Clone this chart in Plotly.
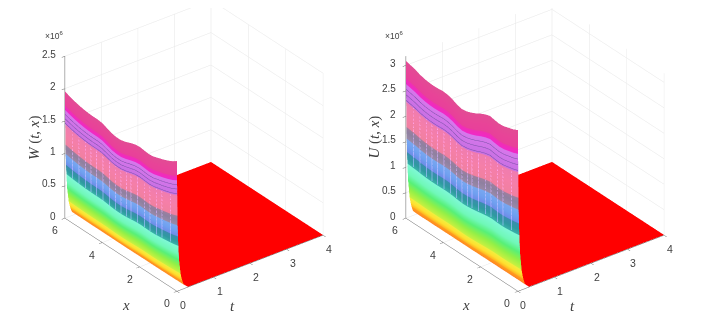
import numpy as np
import plotly.graph_objects as go

# stations along x and read-off wall heights (in units of 1e6)
x_stations = [0, .25, .5, .75, 1, 1.25, 1.5, 1.75, 2, 2.25, 2.5, 2.75, 3, 3.25, 3.5, 3.75, 4, 4.25, 4.5, 4.75, 5, 5.25, 5.5, 5.75, 6]
w_top = [2.01, 1.96, 1.925, 1.895, 1.87, 1.845, 1.835, 1.845, 1.855, 1.845, 1.82, 1.79, 1.77, 1.77, 1.785, 1.815, 1.845, 1.855,
         1.855, 1.86, 1.87, 1.885, 1.905, 1.93, 1.96]
u_top = [3.165, 3.12, 3.09, 3.06, 3.05, 3.065, 3.085, 3.055, 3.01, 2.955, 2.91, 2.875, 2.86, 2.885, 2.93, 2.96, 2.97, 2.96,
         2.955, 2.96, 2.975, 3.0, 3.04, 3.065, 3.09]

# decay of the wall along t: time and fraction of the wall height
t_levels = [0, .002, .004, .005, .007, .009, .012, .016, .02, .028, .04, .05, .06, .08, .1, .125, .15, .19, .3, 4]
f_levels = [1, .94, .89, .855, .80, .74, .66, .58, .505, .42, .345, .28, .23, .18, .125, .09, .062, .03, .002, .002]

# colour bands by fraction
band_stops = [0, .012, .012, .03, .062, .062, .09, .125, .125, .18, .23, .28, .345, .345, .375, .42, .42, .46, .505, .505, .55, .58,
              .58, .66, .74, .74, .855, .855, .89, .89, .94, 1]
band_cols = ['#ff0000', '#ff2000', '#ff6000', '#ff8a20', '#ffa020', '#ffb820', '#ffe030', '#f0f040', '#c8f040', '#90f048', '#58f078', '#70f8b8', '#80f8d8',
             '#38b0a8', '#2f9aa0', '#3c8cb0', '#6f8ce8', '#6fa0f0', '#7aa8f0', '#9a8aa8', '#8f80a0', '#a07f9f',
             '#f080a0', '#f57fa8', '#f07cb0', '#c870e4', '#d878ec', '#f028c8', '#f030b0', '#e8409a', '#e84498', '#e24c94']

stripe_x = [.35, .8, 1.1, 1.45, 1.75, 2.1, 2.45, 2.7, 3.0, 3.3, 3.6, 3.95, 4.3, 4.6, 4.9, 5.25, 5.6]
violet_f = [.82, .785, .75]

t_ticks = [0, 1, 2, 3, 4]
x_ticks = [0, 2, 4, 6]
w_ticks = [0, .5, 1, 1.5, 2, 2.5]
u_ticks = [0, .5, 1, 1.5, 2, 2.5, 3]
w_labels = ['0', '0.5', '1', '1.5', '2', '2.5']
u_labels = ['0', '0.5', '1', '1.5', '2', '2.5', '3']

W, H = 716, 327
TXT = '#404040'
EYE = 1.57
ASPECT = 1.27
ASPECT_Z = 1.29
CZ = -.058


def axis(rng, ticks):
    return dict(range=rng, tickvals=ticks, showticklabels=False, title=dict(text=''), showgrid=True,
                gridcolor='#e6e6e6', gridwidth=1, showline=True, linecolor='#606060', linewidth=1,
                ticks='outside', ticklen=4, tickcolor='#606060', showbackground=False, zeroline=False,
                showspikes=False, mirror=False)


def scene(top, zmax, zt, zl, zname):
    ann = []
    kw = dict(showarrow=False, font=dict(family='Liberation Sans', size=10.5, color=TXT))
    kz = dict(showarrow=False, font=dict(family='Liberation Sans', size=10, color=TXT))
    for v in t_ticks:
        ann.append(dict(x=v, y=0, z=0, text=str(v), xshift=6, yshift=-14, **kw))
    for v in x_ticks:
        ann.append(dict(x=0, y=v, z=0, text=str(v), xshift=-10, yshift=-12, **kw))
    for v, l in zip(zt, zl):
        ann.append(dict(x=0, y=6, z=v, text=l, xanchor='right', xshift=-7, yshift=2, **kz))
    ann.append(dict(x=0, y=6, z=zmax, text='×10<sup>6</sup>', xshift=-11, yshift=21,
                    showarrow=False, font=dict(family='Liberation Sans', size=8.5, color=TXT)))
    ser = dict(showarrow=False, font=dict(family='Liberation Serif', size=15, color=TXT))
    ann.append(dict(x=0, y=3, z=0, text='<i>x</i>', xshift=5, yshift=-50, **ser))
    ann.append(dict(x=2, y=0, z=0, text='<i>t</i>', xshift=-18, yshift=-43, **ser))
    ann.append(dict(x=0, y=6, z=zmax * .5, text=zname, textangle=-90, xshift=-31, yshift=0, **ser))
    return dict(xaxis=axis([0, 4], t_ticks), yaxis=axis([0, 6], x_ticks), zaxis=axis([0, zmax], zt),
                aspectmode='manual', aspectratio=dict(x=ASPECT, y=ASPECT, z=ASPECT_Z), annotations=ann,
                camera=dict(projection=dict(type='orthographic'), eye=dict(x=-.527 * EYE, y=-.687 * EYE, z=.5 * EYE + CZ),
                            up=dict(x=0, y=0, z=1), center=dict(x=0, y=0, z=CZ)))


fig = go.Figure()
colorscale = [[s, c] for s, c in zip(band_stops, band_cols)]


def add(top, sc):
    top = np.array(top)
    f = np.array(f_levels)
    z = np.outer(f, top)
    fig.add_trace(go.Surface(x=t_levels, y=x_stations, z=z.T, surfacecolor=np.outer(f, np.ones_like(top)).T,
                             colorscale=colorscale, cmin=0, cmax=1, showscale=False, hoverinfo='skip', scene=sc,
                             lighting=dict(ambient=1, diffuse=0, specular=0, roughness=1, fresnel=0)))
    # dark lines in the violet band
    for fv in violet_f:
        fig.add_trace(go.Scatter3d(x=[0] * len(x_stations), y=x_stations, z=list(top * fv), mode='lines',
                                   line=dict(color='#7a50a8', width=1), scene=sc, hoverinfo='skip', showlegend=False))
    # stripes over the pink and blue bands
    sx, sy, sz = [], [], []
    for xs in stripe_x:
        h = np.interp(xs, x_stations, top)
        sx += [0, 0, None]
        sy += [xs, xs, None]
        sz += [h * .74, h * .36, None]
    fig.add_trace(go.Scatter3d(x=sx, y=sy, z=sz, mode='lines', line=dict(color='rgba(90,70,110,0.3)', width=2),
                               scene=sc, hoverinfo='skip', showlegend=False))


add(w_top, 'scene')
add(u_top, 'scene2')

# panel rectangles in pixels
fig.update_layout(
    width=W, height=H, margin=dict(l=0, r=0, t=0, b=0), paper_bgcolor='white', showlegend=False,
    scene=dict(domain=dict(x=[17 / W, 355 / W], y=[37 / H, 1]), **scene(w_top, 2.5, w_ticks, w_labels, '<i>W</i> (<i>t</i>, <i>x</i>)')),
    scene2=dict(domain=dict(x=[357.5 / W, 695.5 / W], y=[37 / H, 1]), **scene(u_top, 3.18, u_ticks, u_labels, '<i>U</i> (<i>t</i>, <i>x</i>)')),
)
fig.write_html("out.html")
